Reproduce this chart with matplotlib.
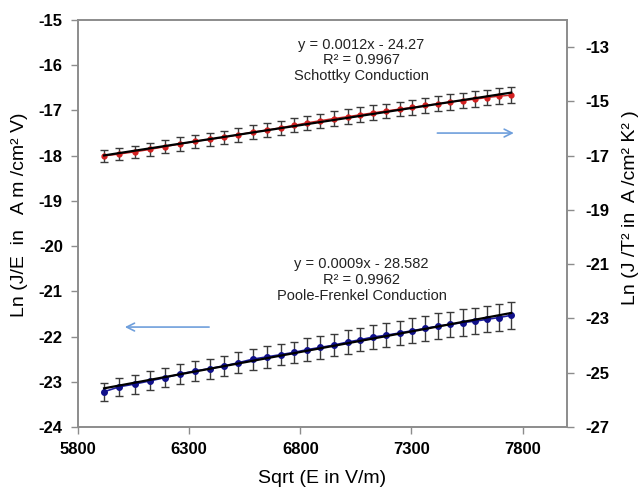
import numpy as np
import matplotlib
matplotlib.use("Agg")
import matplotlib.pyplot as plt

plt.rcParams['font.family'] = ['Liberation Sans', 'DejaVu Sans']
plt.rcParams['axes.unicode_minus'] = False

# sqrt(E) values shared by both series
sqrt_e = [5917, 5986, 6055, 6124, 6190, 6258, 6326, 6392, 6456, 6520,
          6585, 6648, 6711, 6771, 6830, 6889, 6950, 7013, 7070, 7127,
          7187, 7247, 7304, 7361, 7418, 7475, 7532, 7585, 7639, 7693, 7749]

# Poole-Frenkel, left axis
pf_y = [-23.22, -23.11, -23.05, -22.98, -22.91, -22.83, -22.76, -22.71, -22.65, -22.58,
        -22.50, -22.45, -22.40, -22.35, -22.29, -22.24, -22.19, -22.12, -22.07, -22.01,
        -21.97, -21.92, -21.87, -21.82, -21.77, -21.73, -21.69, -21.66, -21.62, -21.58, -21.53]
pf_err = [0.20, 0.20, 0.21, 0.21, 0.21, 0.22, 0.22, 0.22, 0.23, 0.23,
          0.23, 0.24, 0.24, 0.24, 0.25, 0.25, 0.25, 0.26, 0.26, 0.26,
          0.27, 0.27, 0.27, 0.28, 0.28, 0.28, 0.29, 0.29, 0.29, 0.30, 0.30]

# Schottky, right axis
sc_y = [-17.01, -16.94, -16.86, -16.77, -16.67, -16.57, -16.47, -16.40, -16.33, -16.23,
        -16.13, -16.06, -15.97, -15.88, -15.79, -15.71, -15.63, -15.56, -15.49, -15.42,
        -15.35, -15.28, -15.22, -15.15, -15.09, -15.02, -14.97, -14.92, -14.86, -14.81, -14.77]
sc_err = [0.23, 0.23, 0.23, 0.24, 0.24, 0.24, 0.24, 0.25, 0.25, 0.25,
          0.25, 0.25, 0.26, 0.26, 0.26, 0.26, 0.26, 0.27, 0.27, 0.27,
          0.27, 0.27, 0.28, 0.28, 0.28, 0.28, 0.28, 0.29, 0.29, 0.29, 0.29]

pf_text = "y = 0.0009x - 28.582\nR² = 0.9962\nPoole-Frenkel Conduction"
sc_text = "y = 0.0012x - 24.27\nR² = 0.9967\nSchottky Conduction"

grey = "#8c8c8c"

fig = plt.figure(figsize=(6.4, 4.88), dpi=100)
ax = fig.add_axes([0.122, 0.125, 0.764, 0.834])
ax2 = ax.twinx()

x = np.array(sqrt_e)

# Poole-Frenkel on left axis
ax.errorbar(x, pf_y, yerr=pf_err, fmt='none', ecolor='#3a3a3a', elinewidth=1,
            capsize=3, capthick=1, zorder=2)
ax.plot(x, pf_y, color='#1f1fa0', lw=1.2, marker='o', ms=4,
        mfc='#10108a', mec='#10108a', zorder=3)
k, b = np.polyfit(x, pf_y, 1)
ax.plot(x[[0, -1]], k * x[[0, -1]] + b, color='black', lw=1.6, zorder=4)

# Schottky on right axis
ax2.errorbar(x, sc_y, yerr=sc_err, fmt='none', ecolor='#3a3a3a', elinewidth=1,
             capsize=3, capthick=1, zorder=2)
ax2.plot(x, sc_y, color='#d02828', lw=1.0, marker='o', ms=3.5,
         mfc='#d42020', mec='#d42020', zorder=3)
k2, b2 = np.polyfit(x, sc_y, 1)
ax2.plot(x[[0, -1]], k2 * x[[0, -1]] + b2, color='black', lw=1.6, zorder=4)

ax.set_xlim(5800, 8000)
ax.set_ylim(-24, -15)
ax2.set_ylim(-27, -12)
ax.set_xticks([5800, 6300, 6800, 7300, 7800])
ax.set_yticks(np.arange(-24, -14, 1))
ax2.set_yticks(np.arange(-27, -12, 2))

for a in (ax, ax2):
    for s in a.spines.values():
        s.set_color(grey)
        s.set_linewidth(1.2)
    a.tick_params(direction='out', length=5, width=1, color=grey,
                  labelsize=12, labelcolor='black')
    for lab in a.get_xticklabels() + a.get_yticklabels():
        lab.set_fontweight('bold')
ax.tick_params(axis='y', pad=6)
ax2.tick_params(axis='y', pad=8)
ax.tick_params(axis='x', pad=6)

ax.set_xlabel("Sqrt (E in V/m)", fontsize=14, labelpad=9)
fig.text(0.03, 0.56, "Ln (J/E  in   A m /cm² V)", rotation=90,
         fontsize=14, ha='center', va='center')
fig.text(0.985, 0.575, "Ln (J /T² in  A /cm² K² )", rotation=90,
         fontsize=14, ha='center', va='center')

ax.text(7075, -15.89, sc_text, ha='center', va='center', fontsize=10.5,
        color='#222222', linespacing=1.15)
ax.text(7075, -20.75, pf_text, ha='center', va='center', fontsize=10.5,
        color='#222222', linespacing=1.15)

arrow = dict(arrowstyle='->', color='#6f9fdc', lw=1.2, mutation_scale=14)
ax.annotate("", xy=(7773, -17.5), xytext=(7404, -17.5), arrowprops=arrow)
ax.annotate("", xy=(5998, -21.79), xytext=(6402, -21.79), arrowprops=arrow)

fig.savefig("out.png", dpi=100)
